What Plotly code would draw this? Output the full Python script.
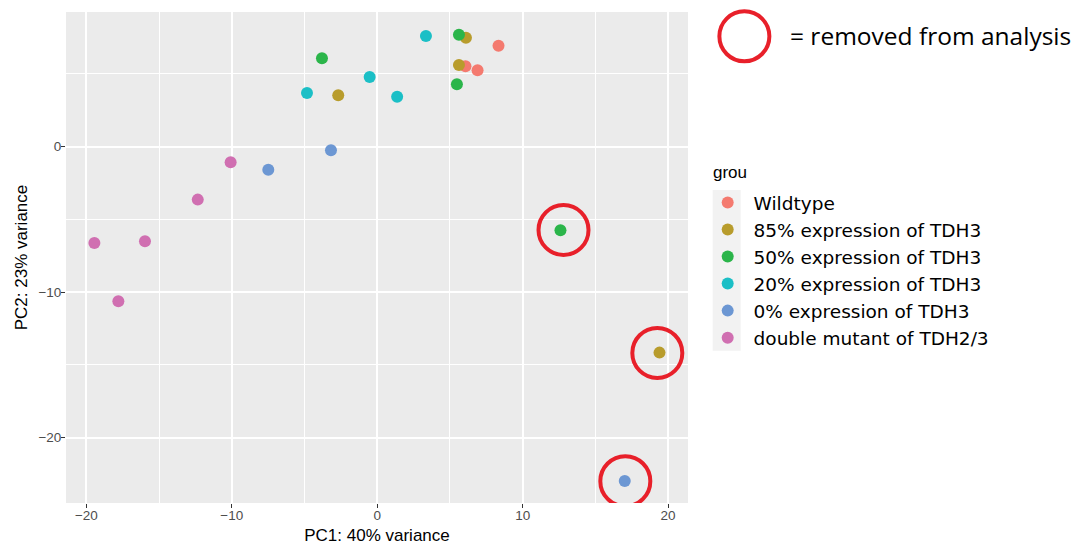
import plotly.graph_objects as go

groups = ["Wildtype", "85% expression of TDH3", "50% expression of TDH3",
          "20% expression of TDH3", "0% expression of TDH3", "double mutant of TDH2/3"]
colors = ["#F47A6F", "#B89C2C", "#2BB54A", "#1BBFC6", "#6C97D3", "#D06FB1"]

pc1 = {
    "Wildtype": [8.34, 6.07, 6.90],
    "85% expression of TDH3": [-2.68, 5.62, 6.10, 19.41],
    "50% expression of TDH3": [-3.80, 5.62, 5.48, 12.60],
    "20% expression of TDH3": [-4.83, -0.52, 1.37, 3.35],
    "0% expression of TDH3": [-3.18, -7.49, 17.02],
    "double mutant of TDH2/3": [-10.08, -12.34, -19.45, -15.97, -17.80],
}
pc2 = {
    "Wildtype": [6.94, 5.53, 5.25],
    "85% expression of TDH3": [3.53, 5.62, 7.49, -14.16],
    "50% expression of TDH3": [6.08, 7.70, 4.29, -5.75],
    "20% expression of TDH3": [3.69, 4.79, 3.44, 7.61],
    "0% expression of TDH3": [-0.25, -1.58, -22.98],
    "double mutant of TDH2/3": [-1.07, -3.64, -6.62, -6.50, -10.63],
}
removed_x = [12.81, 19.26, 17.06]
removed_y = [-5.73, -14.18, -23.00]

x_ticks = [-20, -10, 0, 10, 20]
y_ticks = [-20, -10, 0]

L, R, T, B = 66, 688.3, 12, 503.3
W, H = 1074, 546


def px(xp):
    return (xp - L) / (R - L)


def py(yp):
    return (B - yp) / (B - T)


fig = go.Figure()
for g, c in zip(groups, colors):
    fig.add_trace(go.Scatter(
        x=pc1[g], y=pc2[g], mode="markers", name="\u00a0" + g,
        marker=dict(color=c, size=12, line=dict(width=0)),
    ))

RED = "#E8202A"
shapes = []
for cx, cy in zip(removed_x, removed_y):
    shapes.append(dict(type="circle", xref="x", yref="y",
                       xsizemode="pixel", ysizemode="pixel",
                       xanchor=cx, yanchor=cy, x0=-25, x1=25, y0=-25, y1=25,
                       line=dict(color=RED, width=4), layer="above"))
# legend circle for "removed from analysis"
shapes.append(dict(type="circle", xref="paper", yref="paper",
                   xsizemode="pixel", ysizemode="pixel",
                   xanchor=px(744.7), yanchor=py(36.3),
                   x0=-25, x1=25, y0=-25, y1=25,
                   line=dict(color=RED, width=4), layer="above"))
# grey key background of legend
shapes.append(dict(type="rect", xref="paper", yref="paper",
                   x0=px(713), x1=px(741), y0=py(351), y1=py(190),
                   fillcolor="#F2F2F2", line=dict(width=0), layer="above"))

fig.update_layout(
    width=W, height=H,
    margin=dict(l=L, r=W - R, t=T, b=H - B, autoexpand=False),
    paper_bgcolor="white", plot_bgcolor="#EBEBEB",
    font=dict(family="Liberation Sans, Arial, sans-serif", color="#4D4D4D", size=13),
    shapes=shapes,
    showlegend=True,
    legend=dict(
        x=px(708), y=py(184),
        xanchor="left", yanchor="top", bgcolor="rgba(0,0,0,0)",
        font=dict(family="DejaVu Sans, sans-serif", size=18.5, color="black"),
        tracegroupgap=0, itemsizing="trace",
    ),
    annotations=[
        dict(text="= removed from analysis", xref="paper", yref="paper",
             x=px(788), y=py(36), xanchor="left", yanchor="middle", showarrow=False,
             font=dict(family="Open Sans, sans-serif", size=24.5, color="black")),
        dict(text="grou", xref="paper", yref="paper",
             x=px(711), y=py(173), xanchor="left", yanchor="middle", showarrow=False,
             font=dict(family="Liberation Sans, Arial, sans-serif", size=17, color="black")),
    ],
)
fig.update_xaxes(
    range=[-21.4, 21.37], tickvals=x_ticks, ticktext=["\u221220", "\u221210", "0", "10", "20"],
    showgrid=True, gridcolor="white", gridwidth=1.5,
    minor=dict(tickvals=[-15, -5, 5, 15], showgrid=True, gridcolor="white", gridwidth=0.8),
    ticks="outside", ticklen=4, tickcolor="#333333", tickwidth=1, ticklabelstandoff=-4,
    tickfont=dict(size=13.5, color="#4D4D4D"), zeroline=False, showline=False, automargin=True,
    title=dict(text="PC1: 40% variance", font=dict(size=17, color="black"), standoff=6),
)
fig.update_yaxes(
    range=[-24.5, 9.26], tickvals=y_ticks, ticktext=["\u221220", "\u221210", "0"],
    showgrid=True, gridcolor="white", gridwidth=1.5,
    minor=dict(tickvals=[-15, -5, 5], showgrid=True, gridcolor="white", gridwidth=0.8),
    ticks="outside", ticklen=4, tickcolor="#333333", tickwidth=1, ticklabelstandoff=-3,
    tickfont=dict(size=13.5, color="#4D4D4D"), zeroline=False, showline=False, automargin=True,
    title=dict(text="PC2: 23% variance", font=dict(size=17, color="black"), standoff=6),
)

fig.write_html("out.html")
